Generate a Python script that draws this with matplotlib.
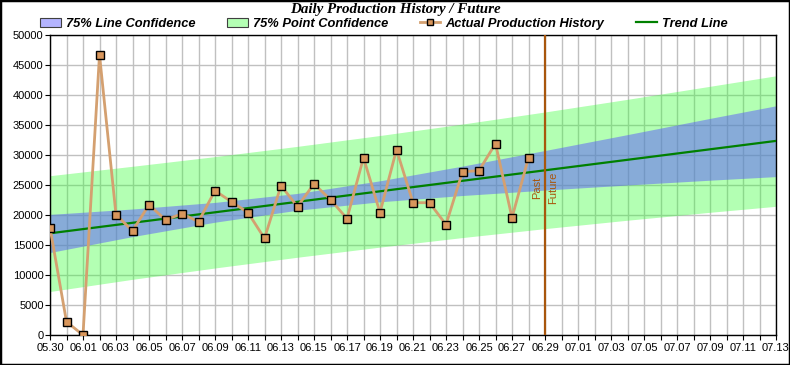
import numpy as np
import matplotlib
matplotlib.use("Agg")
import matplotlib.pyplot as plt
import matplotlib.dates as mdates
from matplotlib.patches import Patch, Rectangle
from matplotlib.lines import Line2D

# production history, one value per day from 05.30 to 06.28
hist_dates = np.arange('2024-05-30', '2024-06-29', dtype='datetime64[D]')
production = [17900, 2200, 0, 46700, 20050, 17350, 21700, 19200, 20200, 18900,
              24050, 22200, 20400, 16100, 24900, 21400, 25200, 22550, 19400, 29550,
              20400, 30900, 22050, 22050, 18400, 27200, 27400, 31900, 19550, 29550]

# confidence bands at a few dates
band_dates = np.array(['2024-05-30', '2024-06-04', '2024-06-09', '2024-06-14',
                       '2024-06-19', '2024-06-24', '2024-06-29', '2024-07-04',
                       '2024-07-09', '2024-07-13'], dtype='datetime64[D]')
line_lo = [13750, 16400, 18800, 20800, 22200, 23250, 24150, 25000, 25800, 26400]
line_hi = [20100, 21000, 22100, 23600, 25700, 28150, 30750, 33400, 36100, 38200]
point_lo = [7250, 9280, 11170, 12960, 14650, 16240, 17730, 19130, 20450, 21450]
point_hi = [26550, 28120, 29730, 31440, 33250, 35160, 37170, 39280, 41450, 43200]

trend_dates = np.array(['2024-05-30', '2024-07-13'], dtype='datetime64[D]')
trend_vals = [16950, 32350]

split_date = np.datetime64('2024-06-29')
x_start, x_end = np.datetime64('2024-05-30'), np.datetime64('2024-07-13')

brown = '#a8560c'

fig = plt.figure(figsize=(7.9, 3.65), dpi=100)
ax = fig.add_axes([50/790, 30/365, 726/790, 300/365])

ax.fill_between(band_dates, point_lo, point_hi, color=(57/255, 1.0, 57/255),
                alpha=0.385, linewidth=0, zorder=1)
ax.fill_between(band_dates, line_lo, line_hi, color=(93/255, 89/255, 253/255),
                alpha=0.5, linewidth=0, zorder=1.1)

ax.plot(trend_dates, trend_vals, color='#008000', linewidth=1.6, zorder=3)
ax.plot(hist_dates, production, color='#d4a070', linewidth=2.0, zorder=4,
        marker='s', markersize=6, markerfacecolor='#d8965c',
        markeredgecolor='black', markeredgewidth=1.0)

ax.axvline(split_date, color=brown, linewidth=1.6, zorder=5)
ax.text(split_date - np.timedelta64(4, 'h'), 24600, 'Past', rotation=90,
        ha='right', va='center', color=brown, fontsize=8, family='Liberation Sans')
ax.text(split_date + np.timedelta64(4, 'h'), 24600, 'Future', rotation=90,
        ha='left', va='center', color=brown, fontsize=8, family='Liberation Sans')

ax.set_xlim(x_start, x_end)
ax.set_ylim(0, 50000)
ax.set_yticks(np.arange(0, 50001, 5000))
major = np.arange('2024-05-30', '2024-07-14', 2, dtype='datetime64[D]')
minor = np.arange('2024-05-30', '2024-07-14', 1, dtype='datetime64[D]')
ax.set_xticks(mdates.date2num(major))
ax.set_xticks(mdates.date2num(minor), minor=True)
ax.xaxis.set_major_formatter(mdates.DateFormatter('%m.%d'))

ax.set_axisbelow(True)
ax.grid(True, which='both', axis='x', color='#c0c0c0', linewidth=1.0)
ax.grid(True, which='major', axis='y', color='#c0c0c0', linewidth=1.0)

for sp in ax.spines.values():
    sp.set_color('black')
    sp.set_linewidth(1.0)
ax.tick_params(which='both', direction='out', length=3.6, width=0.8, color='black')
ax.tick_params(axis='x', pad=2)
ax.tick_params(axis='y', pad=1)
for lab in ax.get_xticklabels() + ax.get_yticklabels():
    lab.set_family('Liberation Sans')
    lab.set_fontsize(8)

fig.text(0.5, 1 - 10/365, 'Daily Production History / Future', ha='center', va='center',
         family='Liberation Serif', fontweight='bold', fontstyle='italic', fontsize=10.8)

handles = [
    Patch(facecolor='#b4b4ff', edgecolor='#404040', linewidth=0.8, label='75% Line Confidence'),
    Patch(facecolor='#b4ffb4', edgecolor='#404040', linewidth=0.8, label='75% Point Confidence'),
    Line2D([], [], color='#d4a070', linewidth=2.0, marker='s', markersize=5,
           markerfacecolor='#d8965c', markeredgecolor='black', label='Actual Production History'),
    Line2D([], [], color='#008000', linewidth=1.6, label='Trend Line'),
]
fig.legend(handles=handles, loc='center left', bbox_to_anchor=(40/790, 1 - 24/365), ncol=4,
           frameon=False, borderpad=0, borderaxespad=0, handlelength=1.6,
           handletextpad=0.4, columnspacing=2.45,
           prop={'family': 'Liberation Sans', 'weight': 'bold', 'style': 'italic', 'size': 9.3})

fig.patches.append(Rectangle((0, 0), 1, 1, transform=fig.transFigure, fill=False,
                             edgecolor='black', linewidth=2.5, zorder=10))

fig.savefig('out.png', dpi=100, facecolor='white')
